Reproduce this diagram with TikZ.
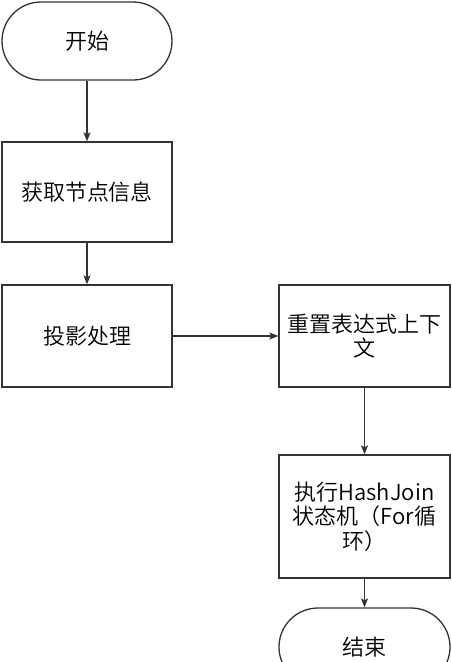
\documentclass[tikz,border=0pt]{standalone}
\usepackage{fontspec}
\setmainfont{Noto Sans CJK SC DemiLight}
\usetikzlibrary{arrows.meta}
\definecolor{lc}{HTML}{333333}
\begin{document}
\begin{tikzpicture}[x=1pt,y=-1pt,
  base/.style={draw=lc, line width=1.3pt, align=center, inner sep=0pt,
    font=\fontsize{22}{24.5}\selectfont, text=black},
  procbox/.style={base, minimum width=#1},
  procbox/.default=170pt,
  term/.style={base, rounded corners=39pt, minimum width=170pt, minimum height=78pt},
  conn/.style={draw=lc, line width=1.3pt, -{Stealth[length=9pt,width=7pt,inset=2pt]}}
]
\useasboundingbox (0,0) rectangle (451,662);
\node[term] (start) at (87,41) {开始};
\node[procbox, minimum height=100pt] (b1) at (87,192) {获取节点信息};
\node[procbox, minimum height=102pt] (b2) at (87,336) {投影处理};
\node[procbox=171pt, minimum height=102pt] (b3) at (364.5,336) {重置表达式上下\\文};
\node[procbox=171pt, minimum height=123pt] (b4) at (364.5,516.5) {执行HashJoin\\状态机（For循\\环）};
\node[term, minimum width=171pt] (end) at (364.5,647) {结束};
\draw[conn] (start) -- (b1);
\draw[conn] (b1) -- (b2);
\draw[conn] (b2) -- (b3);
\draw[conn] (b3) -- (b4);
\draw[conn] (b4) -- (end);
\end{tikzpicture}
\end{document}
